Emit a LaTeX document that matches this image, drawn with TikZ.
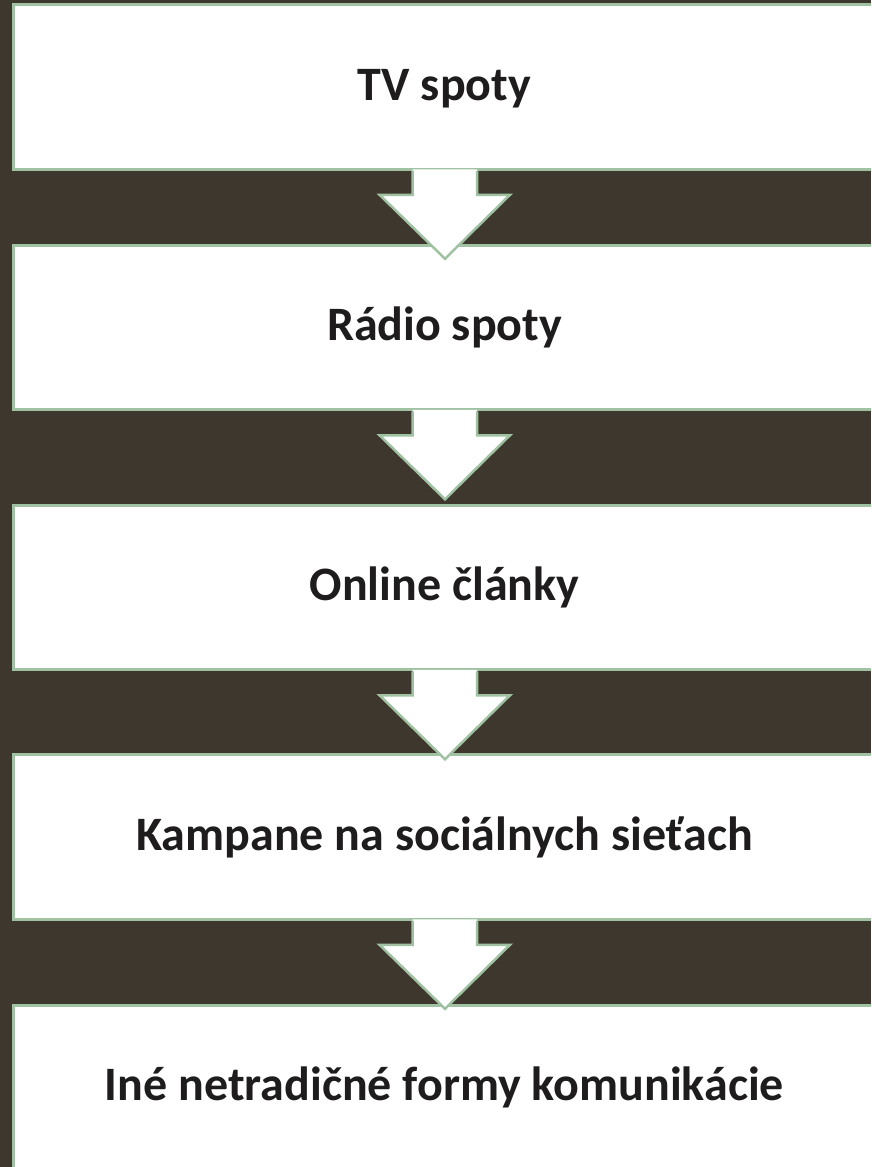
\documentclass[tikz,border=0pt]{standalone}
\usepackage{fontspec}
\setmainfont{Carlito}
\usetikzlibrary{calc}
\definecolor{bgdark}{RGB}{62,55,46}
\definecolor{edgegreen}{RGB}{160,194,162}
\definecolor{txt}{RGB}{30,28,28}
\tikzset{
  stagebox/.style={rectangle, draw=edgegreen, fill=white, line width=3pt,
    minimum width=863pt, minimum height=164.5pt, inner sep=0pt,
    text height=36pt, text depth=10pt,
    font=\fontsize{48}{56}\selectfont\bfseries, text=txt},
  arrowfill/.style={fill=white, draw=none},
  arrowedge/.style={draw=edgegreen, line width=2.5pt, line join=miter}
}
\newcommand{\stagearrow}[1]{%
  \fill[arrowfill] ($(#1.south)+(-32,-1.5)$) -- ($(#1.south)+(-32,24)$) -- ($(#1.south)+(-65,24)$)
    -- ($(#1.south)+(0.5,88)$) -- ($(#1.south)+(65.5,24)$) -- ($(#1.south)+(32.5,24)$) -- ($(#1.south)+(32.5,-1.5)$) -- cycle;
  \draw[arrowedge] ($(#1.south)+(-32,0)$) -- ($(#1.south)+(-32,24)$) -- ($(#1.south)+(-65,24)$)
    -- ($(#1.south)+(0.5,88)$) -- ($(#1.south)+(65.5,24)$) -- ($(#1.south)+(32.5,24)$) -- ($(#1.south)+(32.5,0)$);
}
\begin{document}
\begin{tikzpicture}[x=1pt,y=-1pt]
\useasboundingbox (0,0) rectangle (871,1167);
\clip (0,0) rectangle (871,1167);
\fill[bgdark] (0,0) rectangle (871,1167);
\node[stagebox] (b1) at (444.5,87) {TV spoty};
\node[stagebox] (b2) at (444.5,327.5) {Rádio spoty};
\node[stagebox] (b3) at (444.5,587.5) {Online články};
\node[stagebox] (b4) at (444.5,837) {Kampane na sociálnych sieťach};
\node[stagebox] (b5) at (444.5,1087.5) {Iné netradičné formy komunikácie};
\stagearrow{b1}
\stagearrow{b2}
\stagearrow{b3}
\stagearrow{b4}
\end{tikzpicture}
\end{document}
